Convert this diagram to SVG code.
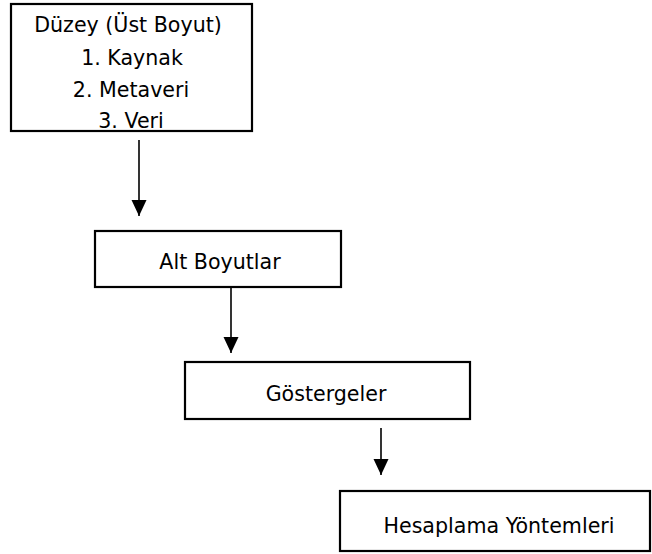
<svg xmlns="http://www.w3.org/2000/svg" width="652" height="554" viewBox="0 0 652 554">
<defs>
<style>
.box{fill:#fff;stroke:#000;stroke-width:2.2}
.t{font-family:"DejaVu Sans",Verdana,sans-serif;font-size:20.6px;fill:#000;text-anchor:middle}
.c{stroke:#000;stroke-width:1.6;fill:none}
</style>
</defs>
<rect width="652" height="554" fill="#fff"/>
<g id="connectors">
<path class="c" d="M139,140 V216"/>
<polygon points="131.5,200 146.5,200 139,216" fill="#000"/>
<path class="c" d="M231,288 V353"/>
<polygon points="223.5,337 238.5,337 231,353" fill="#000"/>
<path class="c" d="M381,428 V475"/>
<polygon points="373.5,459 388.5,459 381,475" fill="#000"/>
</g>
<g id="node-duzey">
<rect class="box" x="11" y="4" width="241" height="127"/>
<text class="t" x="128" y="32">Düzey (Üst Boyut)</text>
<text class="t" x="132" y="65">1. Kaynak</text>
<text class="t" x="131" y="97">2. Metaveri</text>
<text class="t" x="131" y="128">3. Veri</text>
</g>
<g id="node-alt">
<rect class="box" x="95" y="231" width="246" height="56"/>
<text class="t" x="220" y="269">Alt Boyutlar</text>
</g>
<g id="node-gosterge">
<rect class="box" x="185" y="362" width="285" height="57"/>
<text class="t" x="326" y="401">Göstergeler</text>
</g>
<g id="node-hesap">
<rect class="box" x="340" y="491" width="310" height="60"/>
<text class="t" x="499" y="533">Hesaplama Yöntemleri</text>
</g>
</svg>
